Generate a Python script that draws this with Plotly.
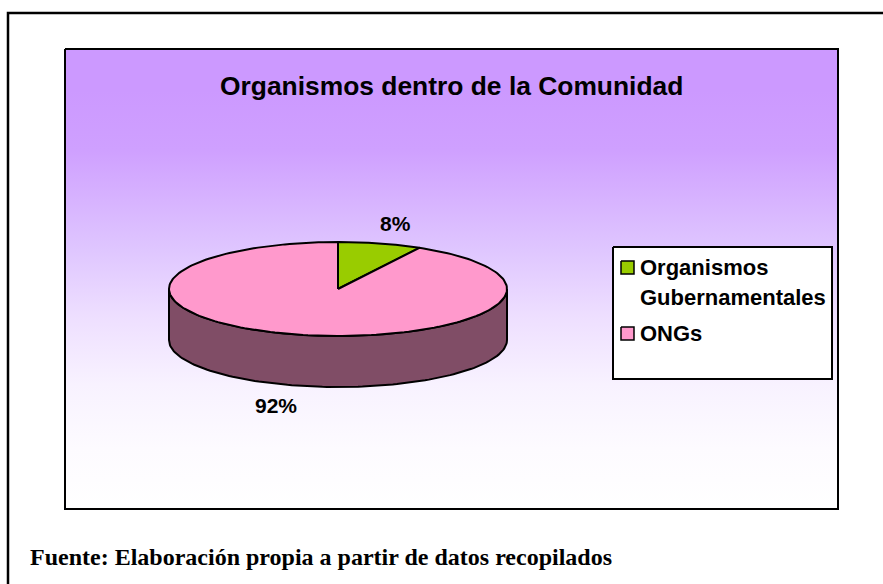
import numpy as np
import plotly.graph_objects as go

categories = ["Organismos<br>Gubernamentales", "ONGs"]
values = [8, 92]
labels = ["8%", "92%"]
slice_colors = ["#99CC00", "#FF99CC"]
side_color = "#804D66"
title = "Organismos dentro de la Comunidad"
source = "Fuente: Elaboración propia a partir de datos recopilados"

W, H = 883, 584
CX, CY, RX, RY, DEPTH = 338, 289, 169, 47, 51

fig = go.Figure()
fig.update_layout(
    width=W, height=H, autosize=False, margin=dict(l=0, r=0, t=0, b=0),
    paper_bgcolor="white", plot_bgcolor="white", showlegend=False,
    xaxis=dict(range=[0, W], visible=False, fixedrange=True),
    yaxis=dict(range=[H, 0], visible=False, fixedrange=True),
    hovermode=False,
)


def poly(xs, ys, fill="toself", color="white", line="black", lw=1.5, **kw):
    fig.add_trace(go.Scatter(x=xs, y=ys, mode="lines", fill=fill, fillcolor=color,
                             line=dict(color=line, width=lw), **kw))


def rect(x0, y0, x1, y1, **kw):
    poly([x0, x1, x1, x0, x0], [y0, y0, y1, y1, y0], **kw)


# outer frame: open on the right and at the bottom
fig.add_trace(go.Scatter(x=[8, 8, 883], y=[584, 13, 13], mode="lines",
                         line=dict(color="black", width=2.5)))

# plot area with vertical gradient
fig.add_trace(go.Scatter(
    x=[65, 838, 838, 65, 65], y=[49, 49, 509, 509, 49], mode="lines", fill="toself",
    line=dict(color="black", width=2),
    fillgradient=dict(type="vertical", colorscale=[
        [0, "#FFFFFF"], [0.13, "#FDFBFF"], [0.27, "#F8F2FF"], [0.417, "#EEDFFF"],
        [0.563, "#DFC6FF"], [0.78, "#CFA0FF"], [0.91, "#CC99FF"], [1, "#CC99FF"]]),
))

# pie, angles clockwise from 12 o'clock, computed from the values
fractions = np.array(values) / sum(values)
ends = np.cumsum(fractions) * 2 * np.pi
starts = ends - fractions * 2 * np.pi


def ell(t, dy=0):
    return CX + RX * np.sin(t), CY - RY * np.cos(t) + dy


# side wall (front half of the ellipse)
t = np.linspace(np.pi / 2, 3 * np.pi / 2, 120)
xt, yt = ell(t)
xb, yb = ell(t[::-1], DEPTH)
poly(np.r_[xt, xb, xt[0]], np.r_[yt, yb, yt[0]], color=side_color, lw=2)

# top faces
for s, e, c in zip(starts, ends, slice_colors):
    t = np.linspace(s, e, 200)
    x, y = ell(t)
    poly(np.r_[CX, x, CX], np.r_[CY, y, CY], color=c, lw=2)


def text(x, y, s, size, family="Liberation Sans", anchor="center", bold=True):
    fig.add_annotation(x=x, y=y, text=f"<b>{s}</b>" if bold else s, showarrow=False,
                       xanchor=anchor, yanchor="middle", xshift=0,
                       font=dict(family=family, size=size, color="black"))


text(451, 86, title, 26.4)
text(395, 223, labels[0], 21)
text(276, 405, labels[1], 21)

# legend
rect(613, 247, 832, 379, color="white", lw=2)
swatch_y = [267.5, 333.5]
for (cat, c, sy) in zip(categories, slice_colors, swatch_y):
    rect(621, sy - 6.5, 634, sy + 6.5, color=c, lw=1.5)
    if "<br>" in cat:
        for part, py in zip(cat.split("<br>"), [267, 297]):
            text(638, py, part, 22, anchor="left")
    else:
        text(638, sy, cat, 22, anchor="left")

text(28, 557, source, 24, family="Liberation Serif", anchor="left")

fig.write_html("out.html", config=dict(displayModeBar=False),
               post_script="document.body.style.margin='0';document.body.style.overflow='hidden';")
